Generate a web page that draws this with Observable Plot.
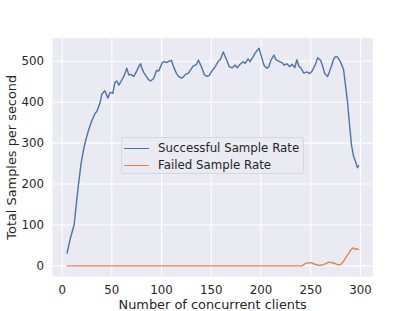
<!DOCTYPE html>
<html>
<head>
<meta charset="utf-8">
<script src="https://cdn.jsdelivr.net/npm/d3@7"></script>
<script src="https://cdn.jsdelivr.net/npm/@observablehq/plot@0.6"></script>
<style>
  html, body { margin: 0; padding: 0; background: #ffffff; }
  #wrap { position: relative; width: 415px; height: 311px; font-family: "DejaVu Sans", sans-serif; }
  #legend {
    position: absolute; left: 121px; top: 137px; width: 183px; height: 37px;
    background: rgba(234,234,242,0.8); border: 1px solid #d6d6dc; border-radius: 3px;
    box-sizing: border-box; font-size: 11.8px; color: #262626;
  }
  .row { position: absolute; left: 2px; height: 14px; display: flex; align-items: center; white-space: nowrap; }
  .sw { display: inline-block; width: 25px; height: 0; border-top: 1.4px solid; margin-right: 9px; }
</style>
</head>
<body>
<div id="wrap"></div>
<script>
// ---- data ----
const xLabel = "Number of concurrent clients";
const yLabel = "Total Samples per second";
const seriesNames = ["Successful Sample Rate", "Failed Sample Rate"];
const seriesColors = ["#4c72b0", "#dd8452"];
const xTicks = [0, 50, 100, 150, 200, 250, 300];
const yTicks = [0, 100, 200, 300, 400, 500];

const clientsSuccess = [5, 8, 12, 16, 19, 22, 24, 27, 30, 33, 35, 38, 40, 43, 46, 48, 51, 53, 55, 57, 59, 62, 64, 65, 67, 69, 72, 75, 77, 79, 80, 82, 85, 87, 89, 92, 95, 97, 99, 101, 103, 105, 107, 110, 112, 115, 117, 120, 122, 124, 127, 130, 132, 135, 137, 140, 143, 146, 148, 151, 153, 157, 159, 162, 166, 168, 171, 174, 176, 179, 182, 184, 187, 189, 192, 194, 198, 200, 203, 206, 208, 210, 213, 215, 218, 221, 223, 226, 229, 231, 234, 236, 238, 240, 243, 246, 249, 251, 253, 255, 257, 260, 262, 264, 267, 269, 271, 273, 275, 277, 280, 283, 285, 287, 289, 291, 293, 295, 297, 298];
const successRate = [31, 65, 100, 190, 250, 290, 310, 335, 356, 372, 378, 398, 420, 428, 410, 424, 422, 448, 452, 442, 450, 463, 476, 483, 467, 468, 463, 476, 487, 494, 484, 473, 462, 455, 452, 458, 478, 476, 487, 498, 499, 497, 500, 502, 487, 470, 463, 459, 462, 468, 471, 482, 489, 492, 503, 487, 467, 463, 466, 478, 483, 500, 504, 523, 500, 487, 484, 491, 484, 493, 499, 495, 506, 499, 511, 520, 532, 515, 490, 483, 488, 503, 515, 504, 500, 497, 491, 494, 487, 493, 485, 504, 488, 484, 471, 474, 470, 475, 484, 494, 509, 502, 488, 470, 463, 476, 490, 505, 512, 510, 498, 480, 440, 400, 345, 295, 268, 255, 240, 245];

const clientsFailed = [5, 241, 245, 248, 251, 254, 258, 263, 268, 273, 278, 281, 284, 287, 290, 292.5, 294.8, 296.5, 298];
const failedRate = [0, 0, 6, 8, 7, 4, 1, 3, 9, 7, 2, 5, 15, 26, 38, 44, 40, 42, 40];

const chart = Plot.plot({
  width: 415,
  height: 311,
  marginLeft: 52,
  marginRight: 42.7,
  marginTop: 37.5,
  marginBottom: 35,
  x: {domain: [-9.7, 312.4]},
  y: {domain: [-26, 557]},
  style: {fontFamily: "DejaVu Sans", fontSize: "11.8px", color: "#262626", background: "transparent", overflow: "visible"},
  marks: [
    Plot.frame({fill: "#eaeaf2", stroke: null}),
    Plot.gridX(xTicks, {stroke: "#ffffff", strokeOpacity: 1, strokeWidth: 1.1}),
    Plot.gridY(yTicks, {stroke: "#ffffff", strokeOpacity: 1, strokeWidth: 1.1}),
    Plot.axisX(xTicks, {tickSize: 0, tickPadding: 9, label: null, fontSize: 11.8}),
    Plot.axisY(yTicks, {tickSize: 0, tickPadding: 8.5, label: null, fontSize: 11.8}),
    Plot.lineY(successRate, {x: clientsSuccess, stroke: seriesColors[0], strokeWidth: 1.4}),
    Plot.lineY(failedRate, {x: clientsFailed, stroke: seriesColors[1], strokeWidth: 1.4}),
    Plot.text([xLabel], {frameAnchor: "bottom", dy: 32.5, lineAnchor: "bottom", fontSize: 12.9}),
    Plot.text([yLabel], {frameAnchor: "left", dx: -37, rotate: -90, textAnchor: "middle", lineAnchor: "bottom", fontSize: 12.9})
  ]
});

const wrap = document.getElementById("wrap");
wrap.appendChild(chart);

const legend = document.createElement("div");
legend.id = "legend";
seriesNames.forEach((name, i) => {
  const row = document.createElement("div");
  row.className = "row";
  row.style.top = (i === 0 ? 3 : 20) + "px";
  const sw = document.createElement("span");
  sw.className = "sw";
  sw.style.borderTopColor = seriesColors[i];
  const label = document.createElement("span");
  label.textContent = name;
  row.appendChild(sw);
  row.appendChild(label);
  legend.appendChild(row);
});
wrap.appendChild(legend);
</script>
</body>
</html>
